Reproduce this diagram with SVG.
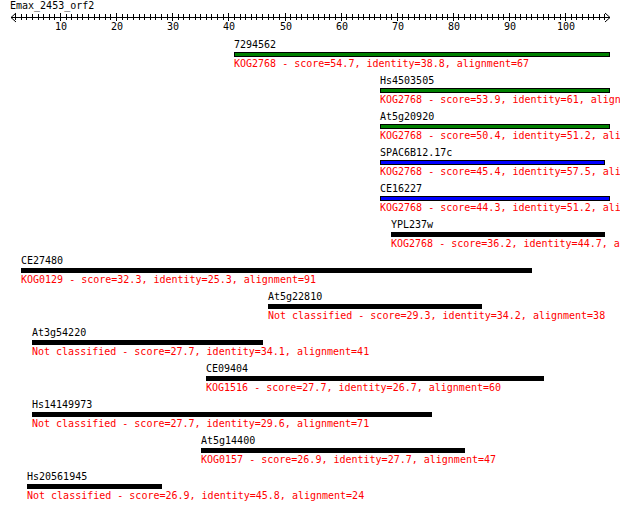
<svg xmlns="http://www.w3.org/2000/svg" width="620" height="509" viewBox="0 0 620 509">
<style>
text{font-family:"DejaVu Sans Mono","Liberation Mono",monospace;font-size:10px;fill:#000}
.s{fill:#ff0000}
.c{text-anchor:middle}
.g{fill:#008000;stroke:#000;stroke-width:1}
.b{fill:#0000ff;stroke:#000;stroke-width:1}
.k{fill:#000}
.ax{stroke:#000;stroke-width:1;fill:none}
</style>
<rect width="620" height="509" fill="#fff"/>
<g id="axis">
<text x="10" y="9">Emax_2453_orf2</text>
<path class="ax" d="M11 17.5H610M16 13L11 17.5L16 22M605 13L610 17.5L605 22"/>
<path class="ax" d="M15.5 14v6M21.5 14v6M26.5 14v6M32.5 14v6M38.5 14v6M43.5 14v6M49.5 14v6M54.5 14v6M66.5 14v6M71.5 14v6M77.5 14v6M82.5 14v6M88.5 14v6M94.5 14v6M99.5 14v6M105.5 14v6M110.5 14v6M122.5 14v6M127.5 14v6M133.5 14v6M139.5 14v6M144.5 14v6M150.5 14v6M155.5 14v6M161.5 14v6M167.5 14v6M178.5 14v6M183.5 14v6M189.5 14v6M195.5 14v6M200.5 14v6M206.5 14v6M211.5 14v6M217.5 14v6M223.5 14v6M234.5 14v6M240.5 14v6M245.5 14v6M251.5 14v6M256.5 14v6M262.5 14v6M268.5 14v6M273.5 14v6M279.5 14v6M290.5 14v6M296.5 14v6M301.5 14v6M307.5 14v6M313.5 14v6M318.5 14v6M324.5 14v6M329.5 14v6M335.5 14v6M346.5 14v6M352.5 14v6M358.5 14v6M363.5 14v6M369.5 14v6M374.5 14v6M380.5 14v6M386.5 14v6M391.5 14v6M402.5 14v6M408.5 14v6M414.5 14v6M419.5 14v6M425.5 14v6M430.5 14v6M436.5 14v6M442.5 14v6M447.5 14v6M458.5 14v6M464.5 14v6M470.5 14v6M475.5 14v6M481.5 14v6M487.5 14v6M492.5 14v6M498.5 14v6M503.5 14v6M515.5 14v6M520.5 14v6M526.5 14v6M531.5 14v6M537.5 14v6M543.5 14v6M548.5 14v6M554.5 14v6M560.5 14v6M571.5 14v6M576.5 14v6M582.5 14v6M588.5 14v6M593.5 14v6M599.5 14v6M604.5 14v6"/>
<path class="ax" d="M60.5 13v8M116.5 13v8M172.5 13v8M228.5 13v8M285.5 13v8M341.5 13v8M397.5 13v8M453.5 13v8M509.5 13v8M565.5 13v8"/>
<text class="c" x="61" y="30">10</text>
<text class="c" x="117" y="30">20</text>
<text class="c" x="173" y="30">30</text>
<text class="c" x="229" y="30">40</text>
<text class="c" x="286" y="30">50</text>
<text class="c" x="342" y="30">60</text>
<text class="c" x="398" y="30">70</text>
<text class="c" x="454" y="30">80</text>
<text class="c" x="510" y="30">90</text>
<text class="c" x="566" y="30">100</text>
</g>
<g id="hit-7294562">
<text x="234" y="48">7294562</text>
<rect class="g" x="234.5" y="52.5" width="375" height="4"/>
<text class="s" x="234" y="66.5">KOG2768 - score=54.7, identity=38.8, alignment=67</text>
</g>
<g id="hit-Hs4503505">
<text x="380" y="84">Hs4503505</text>
<rect class="g" x="380.5" y="88.5" width="229" height="4"/>
<text class="s" x="380" y="102.5">KOG2768 - score=53.9, identity=61, align</text>
</g>
<g id="hit-At5g20920">
<text x="380" y="120">At5g20920</text>
<rect class="g" x="380.5" y="124.5" width="229" height="4"/>
<text class="s" x="380" y="138.5">KOG2768 - score=50.4, identity=51.2, ali</text>
</g>
<g id="hit-SPAC6B12.17c">
<text x="380" y="156">SPAC6B12.17c</text>
<rect class="b" x="380.5" y="160.5" width="224" height="4"/>
<text class="s" x="380" y="174.5">KOG2768 - score=45.4, identity=57.5, ali</text>
</g>
<g id="hit-CE16227">
<text x="380" y="192">CE16227</text>
<rect class="b" x="380.5" y="196.5" width="229" height="4"/>
<text class="s" x="380" y="210.5">KOG2768 - score=44.3, identity=51.2, ali</text>
</g>
<g id="hit-YPL237w">
<text x="391" y="228">YPL237w</text>
<rect class="k" x="391" y="232" width="214" height="5"/>
<text class="s" x="391" y="246.5">KOG2768 - score=36.2, identity=44.7, a</text>
</g>
<g id="hit-CE27480">
<text x="21" y="264">CE27480</text>
<rect class="k" x="21" y="268" width="511" height="5"/>
<text class="s" x="21" y="282.5">KOG0129 - score=32.3, identity=25.3, alignment=91</text>
</g>
<g id="hit-At5g22810">
<text x="268" y="300">At5g22810</text>
<rect class="k" x="268" y="304" width="214" height="5"/>
<text class="s" x="268" y="318.5">Not classified - score=29.3, identity=34.2, alignment=38</text>
</g>
<g id="hit-At3g54220">
<text x="32" y="336">At3g54220</text>
<rect class="k" x="32" y="340" width="231" height="5"/>
<text class="s" x="32" y="354.5">Not classified - score=27.7, identity=34.1, alignment=41</text>
</g>
<g id="hit-CE09404">
<text x="206" y="372">CE09404</text>
<rect class="k" x="206" y="376" width="338" height="5"/>
<text class="s" x="206" y="390.5">KOG1516 - score=27.7, identity=26.7, alignment=60</text>
</g>
<g id="hit-Hs14149973">
<text x="32" y="408">Hs14149973</text>
<rect class="k" x="32" y="412" width="400" height="5"/>
<text class="s" x="32" y="426.5">Not classified - score=27.7, identity=29.6, alignment=71</text>
</g>
<g id="hit-At5g14400">
<text x="201" y="444">At5g14400</text>
<rect class="k" x="201" y="448" width="264" height="5"/>
<text class="s" x="201" y="462.5">KOG0157 - score=26.9, identity=27.7, alignment=47</text>
</g>
<g id="hit-Hs20561945">
<text x="27" y="480">Hs20561945</text>
<rect class="k" x="27" y="484" width="135" height="5"/>
<text class="s" x="27" y="498.5">Not classified - score=26.9, identity=45.8, alignment=24</text>
</g>
</svg>
